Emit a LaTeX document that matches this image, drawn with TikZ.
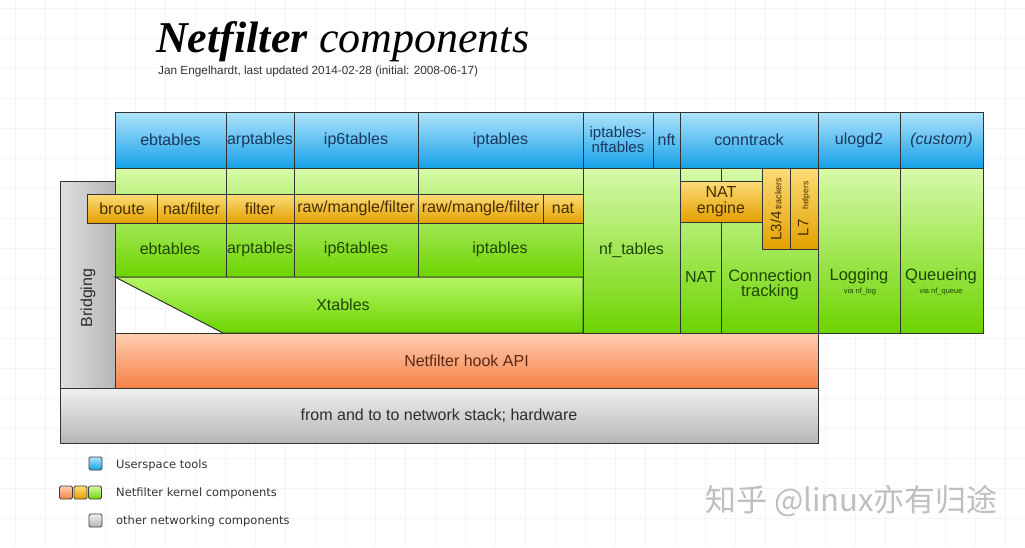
\documentclass[tikz,border=0pt]{standalone}
\usepackage{fontspec}
\setmainfont{Liberation Sans}
\newfontfamily\titlefont{Liberation Serif}
\newfontfamily\legfont{DejaVu Sans}
\newfontfamily\cjk{Noto Sans CJK SC}
\definecolor{bluetop}{RGB}{175,228,252}
\definecolor{bluemid}{RGB}{45,182,242}
\definecolor{bluebot}{RGB}{22,160,232}
\definecolor{bluetxt}{RGB}{25,55,95}
\definecolor{greentop}{RGB}{215,250,170}
\definecolor{greenmid}{RGB}{130,240,0}
\definecolor{greenbot}{RGB}{108,212,0}
\definecolor{greentxt}{RGB}{30,70,0}
\definecolor{ortop}{RGB}{252,220,120}
\definecolor{ormid}{RGB}{242,182,25}
\definecolor{orbot}{RGB}{228,160,0}
\definecolor{ortxt}{RGB}{70,45,0}
\definecolor{hktop}{RGB}{255,205,178}
\definecolor{hkmid}{RGB}{255,150,92}
\definecolor{hkbot}{RGB}{245,130,70}
\definecolor{hktxt}{RGB}{90,40,20}
\definecolor{gtop}{RGB}{240,240,240}
\definecolor{gbot}{RGB}{182,182,182}
\definecolor{gtxt}{RGB}{45,45,45}
\tikzset{
  cell/.style={draw=black!80, line width=1pt, inner sep=0pt, outer sep=0pt, align=center,
    font=\fontsize{16}{16}\selectfont},
  bluecell/.style={cell, top color=bluetop, middle color=bluemid, bottom color=bluebot, text=bluetxt},
  greencell/.style={cell, top color=greentop, middle color=greenmid, bottom color=greenbot, text=greentxt},
  orcell/.style={cell, top color=ortop, middle color=ormid, bottom color=orbot, text=ortxt},
  hkcell/.style={cell, top color=hktop, middle color=hkmid, bottom color=hkbot, text=hktxt},
  graycell/.style={cell, top color=gtop, bottom color=gbot, text=gtxt},
  lbl/.style={inner sep=0pt, align=center, font=\fontsize{16}{16}\selectfont},
  biglbl/.style={inner sep=0pt, align=center, font=\fontsize{16.5}{16}\selectfont},
  small/.style={inner sep=0pt, font=\fontsize{7.5}{8}\selectfont},
  legtext/.style={inner sep=0pt, anchor=west, text=black!80, font=\legfont\fontsize{11.5}{12}\selectfont},
  legbox/.style={draw=black!75, line width=0.8pt, rounded corners=1.5pt},
}
\newcommand\cellbox[7]{\node[#1, minimum width={#5-#3}, minimum height={#6-#4}] (#2) at ({(#3+#5)/2},{(#4+#6)/2}) {#7};}
\begin{document}
\begin{tikzpicture}[x=1pt,y=-1pt]
\useasboundingbox (0,0) rectangle (1025,547);
\fill[white] (0,0) rectangle (1025,547);
\foreach \gx in {15,45,...,1025} \draw[black!4, line width=0.5pt] (\gx,0) -- (\gx,547);
\foreach \gy in {8,38,...,547} \draw[black!4, line width=0.5pt] (0,\gy) -- (1025,\gy);

% title
\node[inner sep=0pt, anchor=base west] (title) at (156,52)
  {\titlefont\fontsize{44}{44}\selectfont\textbf{\textit{Netfilter}} \textit{components}};
\node[inner sep=0pt, anchor=base west, text=black!80] (subtitle) at (158,74)
  {\fontsize{11.8}{12}\selectfont Jan Engelhardt, last updated 2014-02-28 (initial: 2008-06-17)};

% lower layers
\node[cell, left color=gtop!70!gbot, right color=gbot, minimum width=55, minimum height=207] (bridge) at (87.5,284.5) {};
\node[lbl, rotate=90, text=gtxt] (bridgetxt) at (88,298) {Bridging};
\cellbox{hkcell}{hook}{115}{333}{818}{388}{Netfilter hook API}
\cellbox{graycell}{stack}{60}{388}{818}{443}{from and to to network stack; hardware}

% green kernel components
\cellbox{greencell}{gEb}{115}{168}{226}{277}{}
\cellbox{greencell}{gArp}{226}{168}{294}{277}{}
\cellbox{greencell}{gIp6}{294}{168}{418}{277}{}
\cellbox{greencell}{gIp}{418}{168}{583}{277}{}
\node[lbl, text=greentxt] (lEb) at (170,249) {ebtables};
\node[lbl, text=greentxt] (lArp) at (260,249) {arptables};
\node[lbl, text=greentxt] (lIp6) at (356,249) {ip6tables};
\node[lbl, text=greentxt] (lIp) at (500,249) {iptables};
\draw[draw=black!80, line width=1pt, top color=greentop!60!greenmid, middle color=greenmid, bottom color=greenbot]
  (115,277) -- (583,277) -- (583,333) -- (223,333) -- cycle;
\node[lbl, text=greentxt] (xtables) at (343,305) {Xtables};
\cellbox{greencell}{nftables}{583}{168}{680}{333}{nf\_tables}
\cellbox{greencell}{nat}{680}{168}{721}{333}{}
\cellbox{greencell}{ct}{721}{168}{818}{333}{}
\node[lbl, text=greentxt] (natl) at (700.5,277) {NAT};
\node[biglbl, text=greentxt] (ctl) at (770,285) {Connection\\[-1pt]tracking};
\cellbox{greencell}{logging}{818}{168}{900}{333}{}
\cellbox{greencell}{queueing}{900}{168}{983}{333}{}
\node[biglbl, text=greentxt] (logl) at (859,276) {Logging};
\node[small, text=greentxt] (logv) at (860,292) {via nf\_log};
\node[biglbl, text=greentxt] (queuel) at (941,276) {Queueing};
\node[small, text=greentxt] (queuev) at (941,292) {via nf\_queue};

% orange tables / conntrack parts
\cellbox{orcell}{broute}{87}{194}{157}{223}{broute}
\cellbox{orcell}{natfilter}{157}{194}{226}{223}{nat/filter}
\cellbox{orcell}{filter}{226}{194}{294}{223}{filter}
\cellbox{orcell}{rmf6}{294}{194}{418}{223}{raw/mangle/filter}
\cellbox{orcell}{rmf4}{418}{194}{543}{223}{raw/mangle/filter}
\cellbox{orcell}{nat4}{543}{194}{583}{223}{nat}
\cellbox{orcell}{natengine}{680}{181}{762}{222}{NAT\\engine}
\cellbox{orcell}{l34}{762}{168}{790}{249}{}
\cellbox{orcell}{l7}{790}{168}{818}{249}{}
\node[inner sep=0pt, rotate=90, text=ortxt] (l34t) at (776,209)
  {{\fontsize{15}{15}\selectfont L3/4}\,{\fontsize{9}{9}\selectfont trackers}};
\node[inner sep=0pt, rotate=90, text=ortxt] (l7t) at (804,209)
  {{\fontsize{15}{15}\selectfont L7}\hspace{10pt}{\fontsize{8.5}{9}\selectfont helpers}};

% userspace tools
\cellbox{bluecell}{uEb}{115}{112}{226}{168}{ebtables}
\cellbox{bluecell}{uArp}{226}{112}{294}{168}{arptables}
\cellbox{bluecell}{uIp6}{294}{112}{418}{168}{ip6tables}
\cellbox{bluecell}{uIp}{418}{112}{583}{168}{iptables}
\node[bluecell, font=\fontsize{15}{13.5}\selectfont, minimum width=70, minimum height=56] (uIpnft) at (618,140) {iptables-\\nftables};
\cellbox{bluecell}{uNft}{653}{112}{680}{168}{nft}
\cellbox{bluecell}{uCt}{680}{112}{818}{168}{conntrack}
\cellbox{bluecell}{uUlog}{818}{112}{900}{168}{ulogd2}
\cellbox{bluecell}{uCustom}{900}{112}{983}{168}{\textit{(custom)}}

% legend
\node[legbox, top color=bluetop, bottom color=bluebot, minimum size=13, inner sep=0pt] (legBlue) at (95.5,463.5) {};
\node[legtext] (legBlueT) at (116,465) {Userspace tools};
\node[legbox, top color=hktop, bottom color=hkbot, minimum size=13, inner sep=0pt] (legO) at (66,492.5) {};
\node[legbox, top color=ortop, bottom color=orbot, minimum size=13, inner sep=0pt] (legY) at (80.5,492.5) {};
\node[legbox, top color=greentop, bottom color=greenbot, minimum size=13, inner sep=0pt] (legG) at (95,492.5) {};
\node[legtext] (legKT) at (116,493) {Netfilter kernel components};
\node[legbox, top color=gtop, bottom color=gbot, minimum size=13, inner sep=0pt] (legGray) at (95.5,520.5) {};
\node[legtext] (legGrayT) at (116,521) {other networking components};

% watermark
\node[inner sep=0pt, anchor=base west, text=black!25] (wm) at (705,511)
  {\cjk\fontsize{31}{31}\selectfont 知乎 @linux亦有归途};
\end{tikzpicture}
\end{document}
